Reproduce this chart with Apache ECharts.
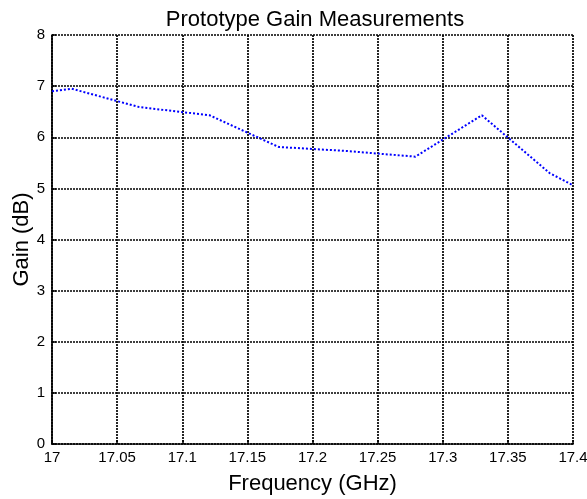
<!DOCTYPE html>
<html>
<head>
<meta charset="utf-8">
<script src="https://cdn.jsdelivr.net/npm/echarts@6/dist/echarts.min.js"></script>
<style>
  html, body { margin: 0; padding: 0; background: #fff; }
  #box { width: 587px; height: 499px; }
</style>
</head>
<body>
<div id="box"></div>
<script>
// measured gain of the prototype vs frequency
var freqGHz = [17.0, 17.015, 17.067, 17.121, 17.174, 17.227, 17.279, 17.330, 17.382, 17.4];
var gainDb = [6.90, 6.95, 6.59, 6.43, 5.81, 5.73, 5.62, 6.43, 5.30, 5.06];

var points = freqGHz.map(function (f, i) { return [f, gainDb[i]]; });

var dotted = { color: '#000', width: 1.7, type: [2, 1] };

var myChart = echarts.init(document.getElementById('box'));
var option = {
    backgroundColor: '#fff',
    animation: false,
    title: {
        text: 'Prototype Gain Measurements',
        left: 310,
        textAlign: 'center',
        top: 4,
        textStyle: {
            color: '#000',
            fontSize: 22,
            fontWeight: 'normal',
            fontFamily: 'Liberation Sans'
        }
    },
    grid: {
        left: 52,
        right: 14,
        top: 35,
        bottom: 55,
        containLabel: false,
        outerBoundsMode: 'none'
    },
    xAxis: {
        type: 'value',
        min: 17,
        max: 17.4,
        interval: 0.05,
        name: 'Frequency (GHz)',
        nameLocation: 'middle',
        nameGap: 29,
        nameTextStyle: { color: '#000', fontSize: 22, fontFamily: 'Liberation Sans' },
        axisLine: { show: true, lineStyle: dotted },
        axisTick: { show: true, inside: true, length: 4, lineStyle: { color: '#000', width: 1.5 } },
        axisLabel: {
            color: '#000',
            fontSize: 15,
            fontFamily: 'Liberation Sans',
            margin: 6,
            formatter: function (v) { return +v.toFixed(2) + ''; }
        },
        splitLine: { show: true, lineStyle: dotted }
    },
    yAxis: {
        type: 'value',
        min: 0,
        max: 8,
        interval: 1,
        name: 'Gain (dB)',
        nameLocation: 'middle',
        nameGap: 19,
        nameMoveOverlap: false,
        nameTextStyle: { color: '#000', fontSize: 22, fontFamily: 'Liberation Sans' },
        axisLine: { show: true, lineStyle: dotted },
        axisTick: { show: true, inside: true, length: 4, lineStyle: { color: '#000', width: 1.5 } },
        axisLabel: {
            color: '#000',
            fontSize: 15,
            fontFamily: 'Liberation Sans',
            margin: 7
        },
        splitLine: { show: true, lineStyle: dotted }
    },
    series: [
        {
            type: 'line',
            data: points,
            showSymbol: false,
            smooth: false,
            lineStyle: { color: '#0000ff', width: 2, type: [2, 2] }
        }
    ]
};

option && myChart.setOption(option);
</script>
</body>
</html>
